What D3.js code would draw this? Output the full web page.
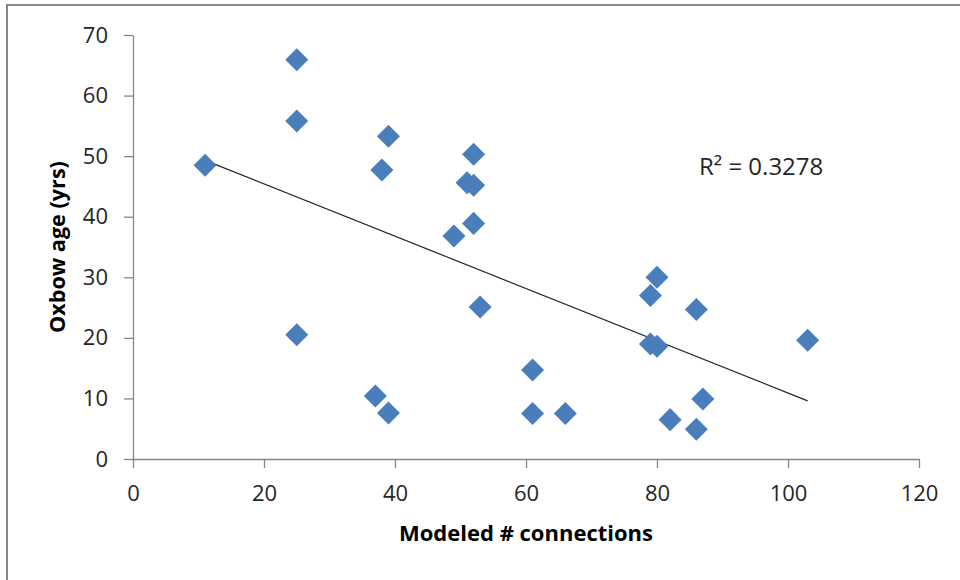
<!DOCTYPE html>
<html>
<head>
<meta charset="utf-8">
<script src="https://cdn.jsdelivr.net/npm/d3@7"></script>
<style>
  html, body { margin: 0; padding: 0; background: #fff; }
  svg { display: block; }
</style>
</head>
<body>
<svg id="chart" width="960" height="580"></svg>
<script>
// ---- data ----
const connections = [11, 25, 25, 25, 39, 38, 37, 39, 49, 52, 51, 52, 52, 53, 61, 61, 66, 80, 79, 79, 80, 86, 82, 86, 87, 103];
const oxbowAge    = [48.5, 65.9, 55.8, 20.5, 53.3, 47.7, 10.4, 7.6, 36.8, 50.3, 45.6, 45.2, 38.9, 25.1, 14.7, 7.5, 7.5, 30.0, 27.0, 19.0, 18.6, 24.7, 6.5, 4.9, 9.9, 19.6];
const trendX = [11, 103];
const trendY = [49.3, 9.6];
const xTicks = [0, 20, 40, 60, 80, 100, 120];
const yTicks = [0, 10, 20, 30, 40, 50, 60, 70];
const r2Label = "R² = 0.3278";
const xTitle = "Modeled # connections";
const yTitle = "Oxbow age (yrs)";

const svg = d3.select("#chart");
const font = "'Open Sans', 'Liberation Sans', sans-serif";
const axisColor = "#868686";

// outer frame
svg.append("rect")
  .attr("x", 7).attr("y", 5)
  .attr("width", 980).attr("height", 600)
  .attr("fill", "#fff")
  .attr("stroke", "#888").attr("stroke-width", 2);

const x = d3.scaleLinear().domain([0, 120]).range([133, 919]);
const y = d3.scaleLinear().domain([0, 70]).range([459, 35]);

// y axis
const gy = svg.append("g")
  .attr("transform", `translate(${x(0)},0)`)
  .call(d3.axisLeft(y).tickValues(yTicks).tickSize(9).tickSizeOuter(0).tickPadding(16));
// x axis
const gx = svg.append("g")
  .attr("transform", `translate(0,${y(0)})`)
  .call(d3.axisBottom(x).tickValues(xTicks).tickSize(9).tickSizeOuter(0).tickPadding(17));

[gx, gy].forEach(g => {
  g.select(".domain").attr("stroke", axisColor).attr("stroke-width", 1.3);
  g.selectAll(".tick line").attr("stroke", axisColor).attr("stroke-width", 1.3);
  g.selectAll(".tick text")
    .attr("fill", "#262626")
    .style("font-family", font)
    .style("font-size", "22px");
});

// trendline
svg.append("line")
  .attr("x1", x(trendX[0])).attr("y1", y(trendY[0]))
  .attr("x2", x(trendX[1])).attr("y2", y(trendY[1]))
  .attr("stroke", "#222").attr("stroke-width", 1.2);

// points
const pts = connections.map((c, i) => ({ x: c, y: oxbowAge[i] }));
svg.append("g").selectAll("path")
  .data(pts)
  .join("path")
  .attr("d", d3.symbol(d3.symbolSquare, 265))
  .attr("transform", d => `translate(${x(d.x)},${y(d.y)}) rotate(45)`)
  .attr("fill", "#4A7EBB");

// R² label
svg.append("text")
  .attr("x", 699).attr("y", 175)
  .attr("fill", "#262626")
  .style("font-family", font)
  .style("font-size", "24px")
  .text(r2Label);

// axis titles
svg.append("text")
  .attr("x", (x(0) + x(120)) / 2).attr("y", 541)
  .attr("text-anchor", "middle")
  .attr("fill", "#000")
  .style("font-family", font)
  .style("font-weight", "bold")
  .style("font-size", "22px")
  .text(xTitle);

svg.append("text")
  .attr("transform", `translate(65,${(y(0) + y(70)) / 2}) rotate(-90)`)
  .attr("text-anchor", "middle")
  .attr("fill", "#000")
  .style("font-family", font)
  .style("font-weight", "bold")
  .style("font-size", "21.6px")
  .text(yTitle);
</script>
</body>
</html>
